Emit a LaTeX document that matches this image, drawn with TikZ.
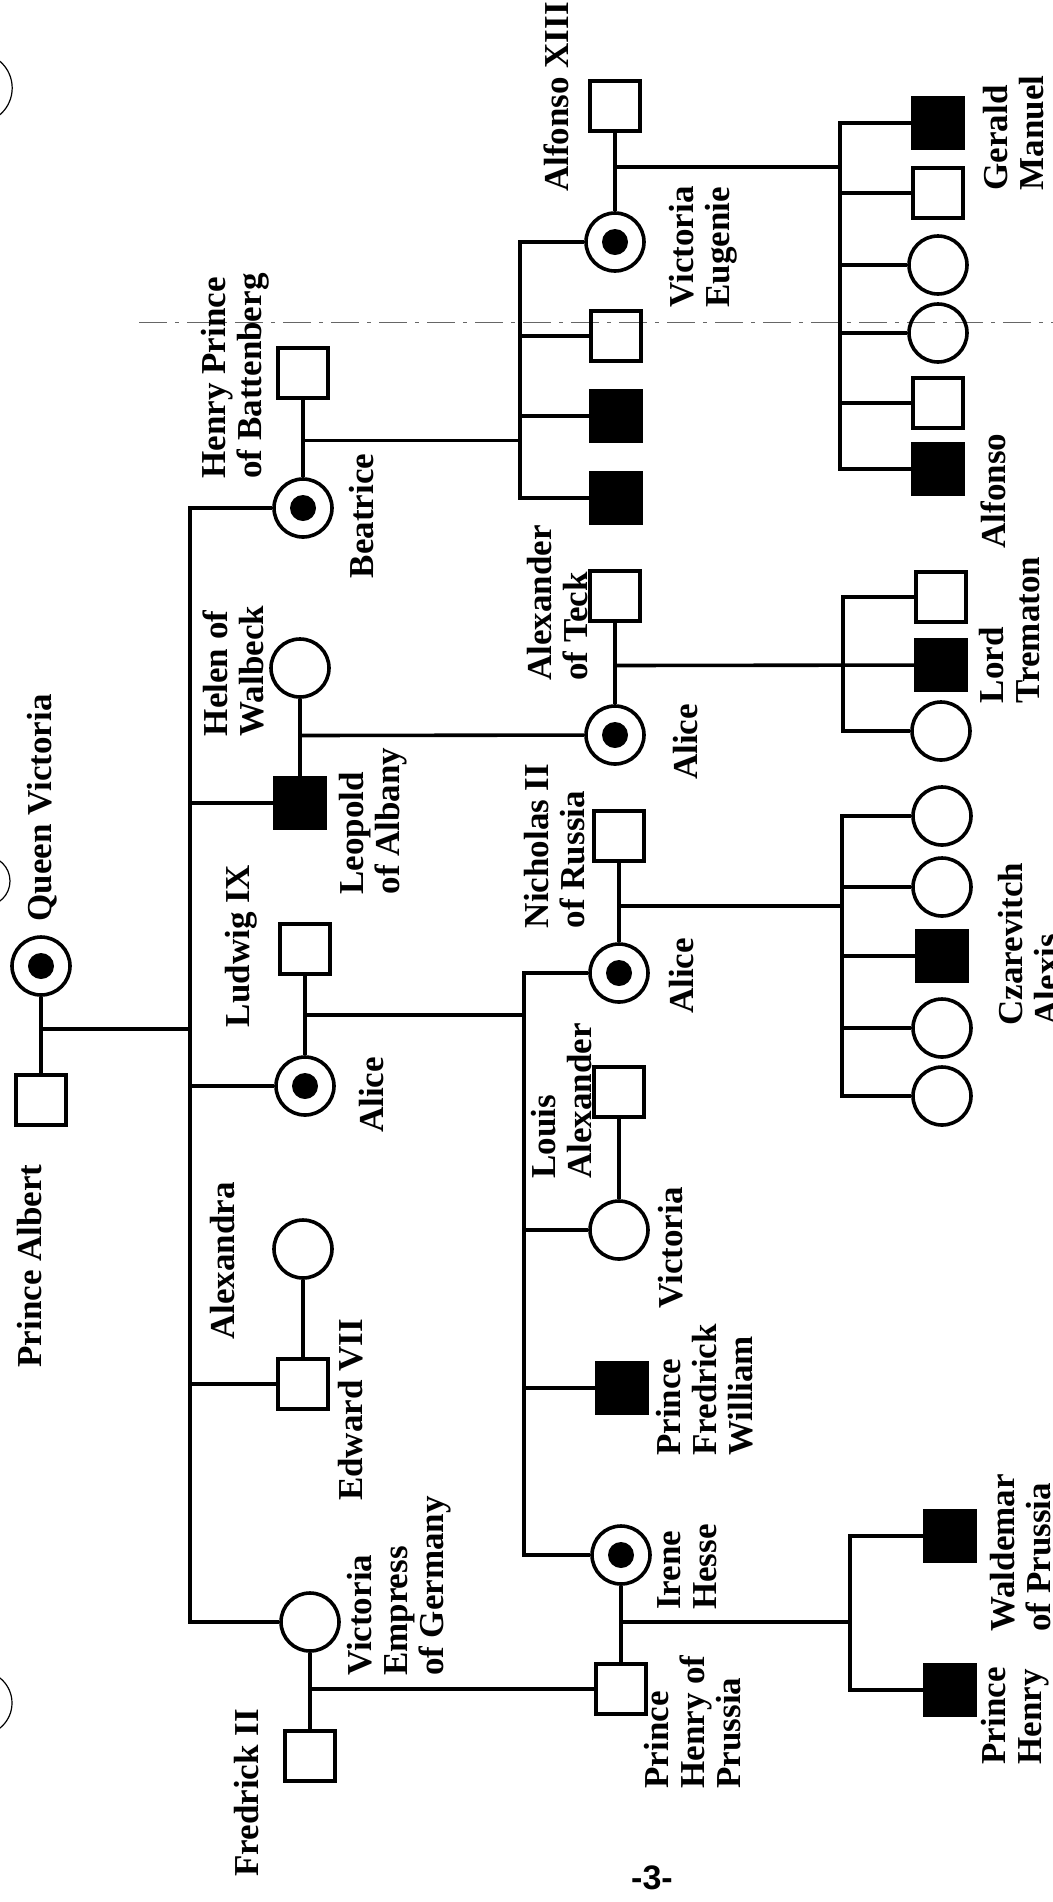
\documentclass[tikz,border=0pt]{standalone}
\usepackage{fontspec}
\setmainfont{Liberation Serif}
\newfontfamily\pagenumfont{Liberation Sans}
\usetikzlibrary{calc}
\newcommand{\kinfont}{\fontsize{17.5}{18}\selectfont\bfseries}

\begin{document}
\begin{tikzpicture}[
  x=0.5pt, y=-0.5pt,
  line width=1.8pt,
  male/.style={draw, rectangle, minimum size=25pt, inner sep=0pt},
  female/.style={draw, circle, minimum size=29pt, inner sep=0pt},
  affected/.style={male, fill=black},
  carrier/.style={female, path picture={\fill (path picture bounding box.center) circle (6.5pt);}},
  kin/.style={rotate=90, align=left, font=\kinfont, inner sep=0pt},
  fold/.style={line width=0.5pt, black!60, dash pattern=on 14pt off 4pt on 2pt off 4pt},
  hole/.style={line width=0.6pt},
]
\useasboundingbox (0,0) rectangle (1053,1902);

% Page marks
\draw[fold] (139, 322) -- (1053, 322);
\draw[hole] (-23, 88) circle (17.6pt);
\draw[hole] (-15, 881) circle (12.5pt);
\draw[hole] (-20, 1703) circle (16pt);
\node[font={\pagenumfont\fontsize{17}{17}\selectfont\bfseries}] (pg) at (652, 1878) {-3-};

% Queen Victoria and Prince Albert
\node[carrier] (QV) at (41, 966) {};
\node[male] (PA) at (41, 1100) {};
\node[kin] (tQV) at (42, 808) {Queen Victoria};
\node[kin] (tPA) at (30, 1266) {Prince Albert};
\draw (QV) -- (PA);
\coordinate (mQV) at ($(QV)!0.47!(PA)$);
\coordinate (sibQV) at (190, 0);

% Their children (column 2)
\node[male] (HenB) at (303, 373) {};
\node[carrier] (Bea) at (303, 508) {};
\node[female] (Helen) at (300, 668) {};
\node[affected] (Leo) at (300, 803) {};
\node[male] (Lud) at (305, 949) {};
\node[carrier] (AliceH) at (305, 1086) {};
\node[female] (Alexa) at (303, 1249) {};
\node[male] (Edw) at (303, 1384) {};
\node[female] (VicEmp) at (310, 1622) {};
\node[male] (Fred) at (310, 1756) {};

\node[kin] (tHenB) at (235, 376) {Henry Prince\\of Battenberg};
\node[kin] (tBea) at (362, 516) {Beatrice};
\node[kin] (tHelen) at (233, 671) {Helen of\\Walbeck};
\node[kin] (tLeo) at (373, 821) {Leopold\\of Albany};
\node[kin] (tLud) at (241, 946) {Ludwig IX};
\node[kin] (tAliceH) at (372, 1095) {Alice};
\node[kin] (tAlexa) at (223, 1261) {Alexandra};
\node[kin] (tEdw) at (351, 1410) {Edward VII};
\node[kin] (tVicEmp) at (399, 1586) {Victoria\\Empress\\of Germany};
\node[kin] (tFred) at (247, 1793) {Fredrick II};

\draw (mQV) -- (mQV -| sibQV);
\draw (Bea) -- (Bea -| sibQV) -- (VicEmp -| sibQV) -- (VicEmp);
\foreach \k in {Leo, AliceH, Edw}
  \draw (\k -| sibQV) -- (\k);
\foreach \a/\b in {HenB/Bea, Helen/Leo, Lud/AliceH, Alexa/Edw, VicEmp/Fred}
  \draw (\a) -- (\b);

% Grandchildren (column 3)
\node[male] (Alf) at (615, 106) {};
\node[carrier] (VicEug) at (615, 242) {};
\node[male] (BeaK2) at (616, 336) {};
\node[affected] (BeaK3) at (616, 416) {};
\node[affected] (BeaK4) at (616, 498) {};
\node[male] (Teck) at (615, 596) {};
\node[carrier] (AliceT) at (615, 735) {};
\node[male] (Nich) at (619, 836) {};
\node[carrier] (AliceN) at (619, 973) {};
\node[male] (Louis) at (619, 1092) {};
\node[female] (VicB) at (619, 1230) {};
\node[affected] (FredW) at (622, 1388) {};
\node[carrier] (Irene) at (621, 1555) {};
\node[male] (PHP) at (621, 1689) {};

\node[kin] (tAlf) at (556, 97) {Alfonso XIII};
\node[kin] (tVicEug) at (703, 247) {Victoria\\Eugenie};
\node[kin] (tTeck) at (558, 603) {Alexander\\of Teck};
\node[kin] (tAliceT) at (686, 742) {Alice};
\node[kin] (tNich) at (555, 846) {Nicholas II\\of Russia};
\node[kin] (tAliceN) at (682, 976) {Alice};
\node[kin] (tLouis) at (562, 1101) {Louis\\Alexander};
\node[kin] (tVicB) at (671, 1248) {Victoria};
\node[kin] (tFredW) at (705, 1390) {Prince\\Fredrick\\William};
\node[kin] (tIrene) at (687, 1567) {Irene\\Hesse};
\node[kin] (tPHP) at (693, 1722) {Prince\\Henry of\\Prussia};

% Beatrice x Henry
\coordinate (mBea) at ($(HenB)!0.5!(Bea)$);
\coordinate (sibBea) at (520, 0);
\draw (mBea) -- (mBea -| sibBea);
\draw (VicEug) -- (VicEug -| sibBea) -- (BeaK4 -| sibBea) -- (BeaK4);
\foreach \k in {BeaK2, BeaK3}
  \draw (\k -| sibBea) -- (\k);

% Leopold x Helen -> Alice
\coordinate (mLeo) at ($(Helen)!0.5!(Leo)$);
\draw (mLeo) -- (AliceT);

% Ludwig x Alice
\coordinate (mLud) at ($(Lud)!0.48!(AliceH)$);
\coordinate (sibHesse) at (524, 0);
\draw (mLud) -- (mLud -| sibHesse);
\draw (AliceN) -- (AliceN -| sibHesse) -- (Irene -| sibHesse) -- (Irene);
\foreach \k in {VicB, FredW}
  \draw (\k -| sibHesse) -- (\k);

% Fredrick II x Victoria -> Prince Henry
\coordinate (mVicEmp) at ($(VicEmp)!0.5!(Fred)$);
\draw (mVicEmp) -- (PHP);

\foreach \a/\b in {Alf/VicEug, Teck/AliceT, Nich/AliceN, Louis/VicB, Irene/PHP}
  \draw (\a) -- (\b);

% Great-grandchildren (column 4)
\node[affected] (VEk1) at (938, 123) {};
\node[male] (VEk2) at (938, 193) {};
\node[female] (VEk3) at (938, 265) {};
\node[female] (VEk4) at (938, 333) {};
\node[male] (VEk5) at (938, 403) {};
\node[affected] (VEk6) at (938, 469) {};
\node[male] (ATk1) at (941, 597) {};
\node[affected] (ATk2) at (941, 665) {};
\node[female] (ATk3) at (941, 731) {};
\node[female] (ANk1) at (942, 816) {};
\node[female] (ANk2) at (942, 887) {};
\node[affected] (ANk3) at (942, 956) {};
\node[female] (ANk4) at (942, 1028) {};
\node[female] (ANk5) at (942, 1096) {};
\node[affected] (IRk1) at (950, 1536) {};
\node[affected] (IRk2) at (950, 1690) {};

\node[kin] (tVEk1) at (1014, 133) {Gerald\\Manuel};
\node[kin] (tVEk6) at (993, 491) {Alfonso};
\node[kin] (tATk2) at (1010, 630) {Lord\\Trematon};
\node[kin] (tANk3) at (1029, 944) {Czarevitch\\Alexis};
\node[kin] (tIRk1) at (1021, 1553) {Waldemar\\of Prussia};
\node[kin] (tIRk2) at (1015, 1716) {Prince\\Henry};

% Victoria Eugenie x Alfonso XIII
\coordinate (mVicEug) at ($(Alf)!0.45!(VicEug)$);
\coordinate (sibVE) at (840, 0);
\draw (mVicEug) -- (mVicEug -| sibVE);
\draw (VEk1) -- (VEk1 -| sibVE) -- (VEk6 -| sibVE) -- (VEk6);
\foreach \k in {VEk2, VEk3, VEk4, VEk5}
  \draw (\k -| sibVE) -- (\k);

% Alice x Alexander of Teck
\coordinate (mAliceT) at ($(Teck)!0.5!(AliceT)$);
\coordinate (sibAT) at (843, 0);
\draw (mAliceT) -- (ATk2);
\draw (ATk1) -- (ATk1 -| sibAT) -- (ATk3 -| sibAT) -- (ATk3);

% Alice x Nicholas II
\coordinate (mAliceN) at ($(Nich)!0.51!(AliceN)$);
\coordinate (sibAN) at (842, 0);
\draw (mAliceN) -- (mAliceN -| sibAN);
\draw (ANk1) -- (ANk1 -| sibAN) -- (ANk5 -| sibAN) -- (ANk5);
\foreach \k in {ANk2, ANk3, ANk4}
  \draw (\k -| sibAN) -- (\k);

% Irene x Prince Henry of Prussia
\coordinate (mIrene) at ($(Irene)!0.5!(PHP)$);
\coordinate (sibIR) at (850, 0);
\draw (mIrene) -- (mIrene -| sibIR);
\draw (IRk1) -- (IRk1 -| sibIR) -- (IRk2 -| sibIR) -- (IRk2);

\end{tikzpicture}
\end{document}
